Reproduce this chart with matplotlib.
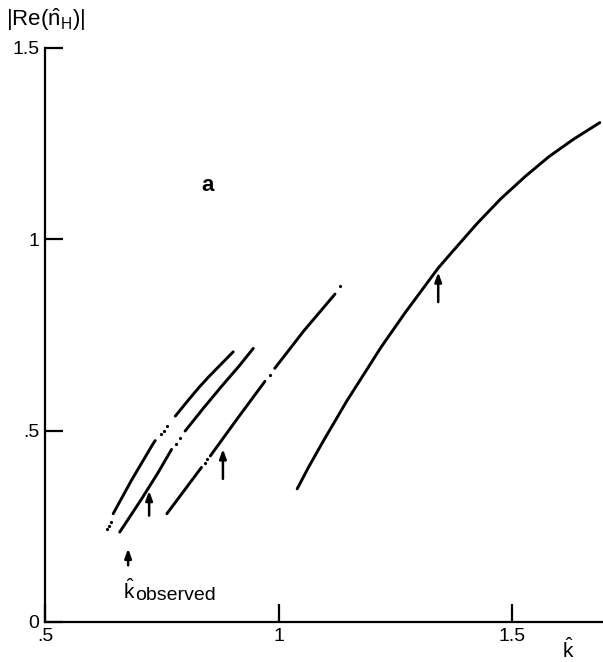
import matplotlib
matplotlib.use("Agg")
import matplotlib.pyplot as plt

plt.rcParams['font.family'] = ['Liberation Sans', 'DejaVu Sans']
plt.rcParams['mathtext.fontset'] = 'custom'
plt.rcParams['mathtext.rm'] = 'Liberation Sans'
plt.rcParams['mathtext.it'] = 'Liberation Sans:italic'
plt.rcParams['mathtext.bf'] = 'Liberation Sans:bold'

# ---- data ----
# curve 1 (leftmost)
c1_dots_x = [0.632, 0.637, 0.641]
c1_dots_y = [0.242, 0.252, 0.262]
c1a_x = [0.646, 0.685, 0.731, 0.736]
c1a_y = [0.283, 0.370, 0.465, 0.474]
c1_mid_dots_x = [0.748, 0.755, 0.762]
c1_mid_dots_y = [0.490, 0.500, 0.512]
c1b_x = [0.779, 0.805, 0.829, 0.850, 0.870, 0.903]
c1b_y = [0.538, 0.577, 0.612, 0.640, 0.665, 0.706]

# curve 2
c2a_x = [0.660, 0.706, 0.742, 0.771]
c2a_y = [0.235, 0.320, 0.390, 0.451]
c2_dots_x = [0.781, 0.789]
c2_dots_y = [0.466, 0.481]
c2b_x = [0.800, 0.840, 0.881, 0.915, 0.946]
c2b_y = [0.499, 0.560, 0.620, 0.668, 0.715]

# curve 3
c3a_x = [0.761, 0.835]
c3a_y = [0.283, 0.404]
c3_dots1_x = [0.842, 0.847]
c3_dots1_y = [0.416, 0.425]
c3b_x = [0.854, 0.911, 0.971]
c3b_y = [0.434, 0.530, 0.629]
c3_dot2_x = [0.982]
c3_dot2_y = [0.646]
c3c_x = [0.992, 1.055, 1.121]
c3c_y = [0.663, 0.762, 0.857]
c3_dot3_x = [1.132]
c3_dot3_y = [0.878]

# curve 4 (rightmost)
c4_x = [1.040, 1.065, 1.096, 1.146, 1.194, 1.219, 1.271, 1.342, 1.384,
        1.425, 1.476, 1.528, 1.579, 1.631, 1.688]
c4_y = [0.348, 0.406, 0.473, 0.577, 0.669, 0.717, 0.808, 0.925, 0.984,
        1.041, 1.106, 1.164, 1.216, 1.261, 1.305]

# arrows: x, tail y, tip y
arrow_x = [0.678, 0.723, 0.881, 1.342]
arrow_tail = [0.148, 0.278, 0.374, 0.836]
arrow_tip = [0.192, 0.343, 0.452, 0.914]

xticks = [0.5, 1.0, 1.5]
xtick_labels = ['.5', '1', '1.5']
yticks = [0.0, 0.5, 1.0, 1.5]
ytick_labels = ['0', '.5', '1', '1.5']

# ---- figure ----
W, H = 603, 662
fig = plt.figure(figsize=(W / 100, H / 100), dpi=100)
ax = fig.add_axes([45 / W, 40 / H, 558 / W, 574 / H])
xmax = 0.5 + 558 / 467
ax.set_xlim(0.5, xmax)
ax.set_ylim(0, 1.5)

lw = 2.1
for xs, ys in [(c1a_x, c1a_y), (c1b_x, c1b_y), (c2a_x, c2a_y), (c2b_x, c2b_y),
               (c3a_x, c3a_y), (c3b_x, c3b_y), (c3c_x, c3c_y), (c4_x, c4_y)]:
    ax.plot(xs, ys, color='black', lw=lw, solid_capstyle='round',
            solid_joinstyle='round', clip_on=False)

for xs, ys in [(c1_dots_x, c1_dots_y), (c1_mid_dots_x, c1_mid_dots_y),
               (c2_dots_x, c2_dots_y), (c3_dots1_x, c3_dots1_y),
               (c3_dot2_x, c3_dot2_y), (c3_dot3_x, c3_dot3_y)]:
    ax.plot(xs, ys, 'o', color='black', ms=2.3, mew=0)

for x, t0, t1 in zip(arrow_x, arrow_tail, arrow_tip):
    ax.annotate('', xy=(x, t1), xytext=(x, t0),
                arrowprops=dict(arrowstyle='-|>,head_length=0.55,head_width=0.2',
                                color='black', lw=1.8, shrinkA=0, shrinkB=0))

# k-hat observed label
fig.text(123 / W, 1 - 591 / H, r'$\hat{\mathrm{k}}$', fontsize=15,
         ha='left', va='center')
fig.text(135 / W, 1 - 596 / H, 'observed', fontsize=14,
         ha='left', va='center')

ax.text(0.849, 1.14, 'a', fontsize=16, fontweight='bold', ha='center', va='center')

for s in ['top', 'right']:
    ax.spines[s].set_visible(False)
for s in ['left', 'bottom']:
    ax.spines[s].set_linewidth(1.6)

ax.set_xticks(xticks)
ax.set_xticklabels(xtick_labels, fontsize=14)
ax.set_yticks(yticks)
ax.set_yticklabels(ytick_labels, fontsize=14)
ax.tick_params(axis='both', direction='in', length=13, width=1.6, pad=4)

fig.text(6 / W, 1 - 20 / H, r'$|\mathrm{Re}(\hat{\mathrm{n}}_{\mathrm{H}})|$',
         fontsize=16, ha='left', va='center')
fig.text(568 / W, 1 - 650 / H, r'$\hat{\mathrm{k}}$', fontsize=15,
         ha='center', va='center')

fig.savefig('out.png', dpi=100)
